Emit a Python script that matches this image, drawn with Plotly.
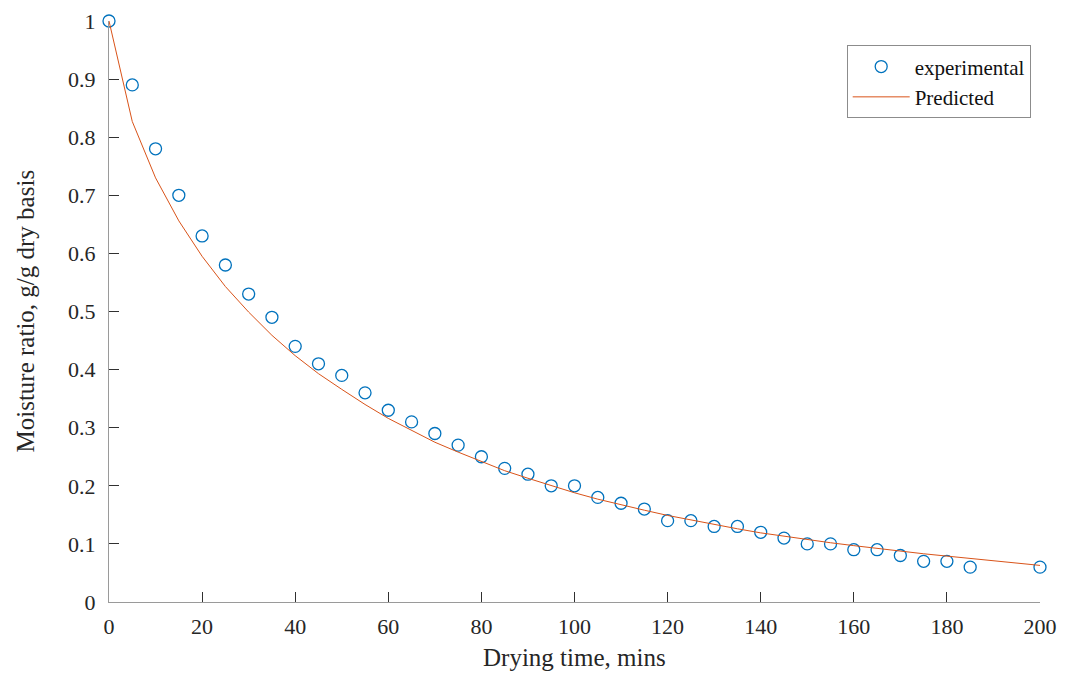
import plotly.graph_objects as go

time_min = [0, 5, 10, 15, 20, 25, 30, 35, 40, 45, 50, 55, 60, 65, 70, 75, 80, 85, 90, 95,
            100, 105, 110, 115, 120, 125, 130, 135, 140, 145, 150, 155, 160, 165, 170, 175,
            180, 185, 200]
experimental = [1.00, 0.89, 0.78, 0.70, 0.63, 0.58, 0.53, 0.49, 0.44, 0.41, 0.39, 0.36, 0.33,
                0.31, 0.29, 0.27, 0.25, 0.23, 0.22, 0.20, 0.20, 0.18, 0.17, 0.16, 0.14, 0.14,
                0.13, 0.13, 0.12, 0.11, 0.10, 0.10, 0.09, 0.09, 0.08, 0.07, 0.07, 0.06, 0.06]
predicted = [1.000, 0.827, 0.730, 0.656, 0.595, 0.543, 0.499, 0.459, 0.424, 0.393, 0.366,
             0.340, 0.316, 0.295, 0.275, 0.258, 0.242, 0.226, 0.213, 0.200, 0.188, 0.177,
             0.167, 0.158, 0.149, 0.141, 0.134, 0.126, 0.119, 0.113, 0.107, 0.102, 0.097,
             0.092, 0.087, 0.083, 0.079, 0.075, 0.063]

x_ticks = [0, 20, 40, 60, 80, 100, 120, 140, 160, 180, 200]
y_ticks = [0, 0.1, 0.2, 0.3, 0.4, 0.5, 0.6, 0.7, 0.8, 0.9, 1]
y_tick_text = ["0", "0.1", "0.2", "0.3", "0.4", "0.5", "0.6", "0.7", "0.8", "0.9", "1"]

x_title = "Drying time, mins"
y_title = "Moisture ratio, g/g dry basis"

FONT = "Liberation Serif, Times New Roman, serif"
TXT = "#262626"

fig = go.Figure()
fig.add_trace(go.Scatter(
    x=time_min, y=experimental, mode="markers", name="experimental",
    marker=dict(symbol="circle-open", size=12, color="#0072BD", line=dict(width=1.3)),
    cliponaxis=False,
))
fig.add_trace(go.Scatter(
    x=time_min, y=predicted, mode="lines", name="Predicted",
    line=dict(color="#D95319", width=1),
    cliponaxis=False,
))

axis_common = dict(
    showline=True, linecolor="#9a9a9a", linewidth=1.3, mirror=False,
    ticks="inside", ticklen=10, tickcolor="#303030", tickwidth=1,
    showgrid=False, zeroline=False, automargin=False, ticklabeloverflow="allow",
    tickfont=dict(family=FONT, size=22, color=TXT),
)

# the page body has an 8px default margin, so the margins below compensate for it
fig.update_layout(
    width=1069, height=675,
    margin=dict(l=101, r=37, t=13, b=81),
    paper_bgcolor="white", plot_bgcolor="white",
    font=dict(family=FONT, color=TXT),
    xaxis=dict(range=[0, 200], tickvals=x_ticks, ticklabelstandoff=4, **axis_common),
    yaxis=dict(range=[0, 1], tickvals=y_ticks, ticktext=y_tick_text, ticklabelstandoff=8,
               **axis_common),
    legend=dict(
        x=0.990, y=0.958, xanchor="right", yanchor="top",
        bgcolor="white", bordercolor="#8c8c8c", borderwidth=1,
        font=dict(family=FONT, size=21, color="#111111"),
        itemwidth=57, tracegroupgap=0,
    ),
    showlegend=True,
    annotations=[
        dict(text=x_title, xref="paper", yref="paper", x=0.5, y=0, yshift=-55,
             xanchor="center", yanchor="middle", showarrow=False,
             font=dict(family=FONT, size=25, color=TXT)),
        dict(text=y_title, xref="paper", yref="paper", x=0, y=0.5, xshift=-84,
             xanchor="center", yanchor="middle", showarrow=False, textangle=-90,
             font=dict(family=FONT, size=25, color=TXT)),
    ],
)

fig.write_html("out.html")
